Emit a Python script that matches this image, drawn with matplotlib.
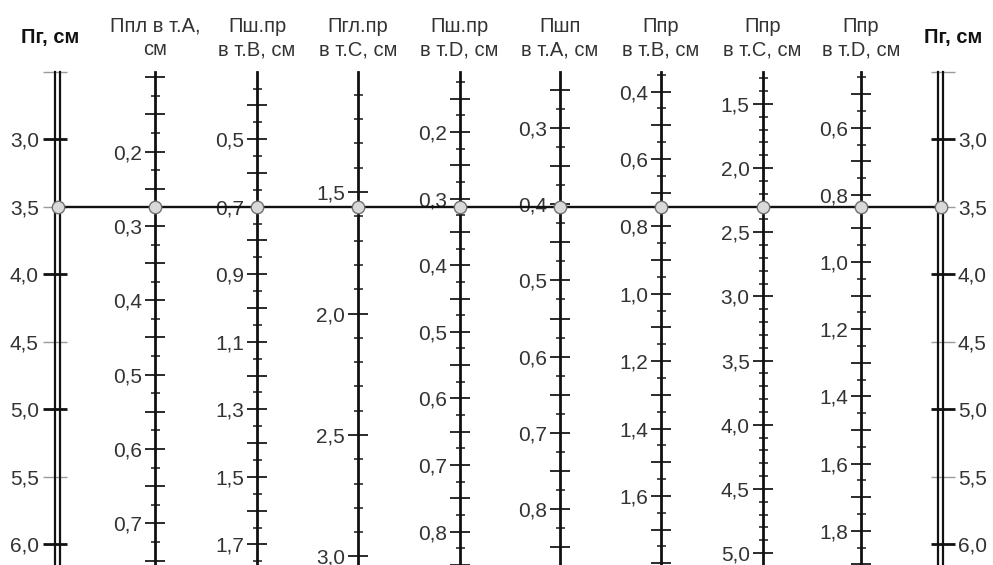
import matplotlib
matplotlib.use('Agg')
import matplotlib.pyplot as plt
from matplotlib.ticker import MultipleLocator, FuncFormatter

plt.rcParams['font.family'] = ['Liberation Sans', 'DejaVu Sans']

# --- data ---
pg_title = 'Пг, см'
pg_top, pg_bottom = 2.5, 6.156          # Пг value at top end / bottom edge
pg_labels = [3.0, 3.5, 4.0, 4.5, 5.0, 5.5, 6.0]
pg_mark = 3.5                            # key line drawn through Пг = 3,5

titles = ['Ппл в т.А,\nсм', 'Пш.пр\nв т.В, см', 'Пгл.пр\nв т.С, см', 'Пш.пр\nв т.D, см',
          'Пшп\nв т.А, см', 'Ппр\nв т.В, см', 'Ппр\nв т.С, см', 'Ппр\nв т.D, см']
top_vals = [0.093, 0.301, 1.006, 0.110, 0.226, 0.342, 1.251, 0.434]
bottom_vals = [0.756, 1.761, 3.035, 0.850, 0.874, 1.805, 5.093, 1.902]
# first and last labelled value on each scale, and the label step
label_first = [0.2, 0.5, 1.5, 0.2, 0.3, 0.4, 1.5, 0.6]
label_last = [0.7, 1.7, 3.0, 0.8, 0.8, 1.6, 5.0, 1.8]
label_steps = [0.1, 0.2, 0.5, 0.1, 0.1, 0.2, 0.5, 0.2]
long_steps = [0.05, 0.1, 0.5, 0.05, 0.05, 0.1, 0.5, 0.1]
short_steps = [0.025, 0.05, 0.1, 0.025, 0.025, 0.05, 0.1, 0.05]

# --- layout (pixels) ---
W, H = 993, 565
top_px = 72
axis_x = [155, 257, 358, 459.5, 560, 661, 762.5, 861]
pg_left_x, pg_right_x = 57.5, 940.5
top_frac = (H - top_px) / H
PT = 0.72  # points per pixel at dpi 100
ink = '#1a1a1a'
txt = '#333333'
fs = 15

fig = plt.figure(figsize=(W / 100, H / 100), dpi=100)


def make_fmt(first, last, step):
    def f(v, pos):
        if v < first - 1e-6 or v > last + 1e-6:
            return ''
        k = (v - first) / step
        if abs(k - round(k)) < 1e-6:
            return f'{v:.1f}'.replace('.', ',')
        return ''
    return FuncFormatter(f)


# the eight single scales
for i, x in enumerate(axis_x):
    ax = fig.add_axes([x / W, 0, 0.0001, top_frac])
    ax.set_ylim(bottom_vals[i], top_vals[i])
    ax.patch.set_visible(False)
    for s in ['top', 'right', 'bottom']:
        ax.spines[s].set_visible(False)
    ax.spines['left'].set_linewidth(2)
    ax.spines['left'].set_color('#111111')
    ax.xaxis.set_visible(False)
    ax.yaxis.set_major_locator(MultipleLocator(long_steps[i]))
    ax.yaxis.set_minor_locator(MultipleLocator(short_steps[i]))
    ax.yaxis.set_major_formatter(make_fmt(label_first[i], label_last[i], label_steps[i]))
    ax.tick_params(which='major', direction='inout', length=20 * PT, width=1.3, color=ink,
                   pad=2.0, labelsize=fs, labelcolor=txt)
    ax.tick_params(which='minor', direction='inout', length=9 * PT, width=1.1, color=ink)
    ax.text(0, 1.0 + 34 / (H - top_px), titles[i], transform=ax.transAxes,
            ha='center', va='center', fontsize=fs - 0.5, color=txt, linespacing=1.3)


# the two Пг scales (double line)
for side, px in [('left', pg_left_x), ('right', pg_right_x)]:
    ax = fig.add_axes([(px - 2.5) / W, 0, 5 / W, top_frac])
    ax.set_ylim(pg_bottom, pg_top)
    ax.patch.set_visible(False)
    for s in ['top', 'bottom']:
        ax.spines[s].set_visible(False)
    for s in ['left', 'right']:
        ax.spines[s].set_linewidth(1.6)
        ax.spines[s].set_color('#111111')
    ax.xaxis.set_visible(False)
    ax.yaxis.set_major_locator(MultipleLocator(1.0))
    ax.yaxis.set_minor_locator(MultipleLocator(0.5))
    ax.yaxis.set_major_formatter(make_fmt(pg_labels[0], pg_labels[-1], 0.5))
    ax.yaxis.set_minor_formatter(make_fmt(pg_labels[0], pg_labels[-1], 0.5))
    if side == 'right':
        ax.yaxis.tick_right()
        pad = 2
    else:
        pad = 3
    ax.tick_params(which='major', direction='inout', length=24 * PT, width=2.0, color='#111111',
                   pad=pad, labelsize=fs, labelcolor=txt)
    ax.tick_params(which='minor', direction='inout', length=24 * PT, width=1.0, color='#9a9a9a',
                   pad=pad, labelsize=fs, labelcolor=txt)
    hx = 50 if side == 'left' else 953
    fig.text(hx / W, 1 - 38 / H, pg_title, ha='center', va='center',
             fontsize=fs - 0.5, fontweight='bold', color='#111111')

# key line with the reading points
ov = fig.add_axes([0, 0, 1, top_frac])
ov.set_xlim(0, W)
ov.set_ylim(pg_bottom, pg_top)
ov.axis('off')
xs = [pg_left_x] + axis_x + [pg_right_x]
ov.plot([pg_left_x, pg_right_x], [pg_mark, pg_mark], color='#111111', lw=1.7, zorder=2)
ov.scatter(xs, [pg_mark] * len(xs), s=80, facecolor='#d9d9d9', edgecolor='#707070',
           linewidth=1.0, zorder=3)

fig.savefig('out.png', dpi=100)
